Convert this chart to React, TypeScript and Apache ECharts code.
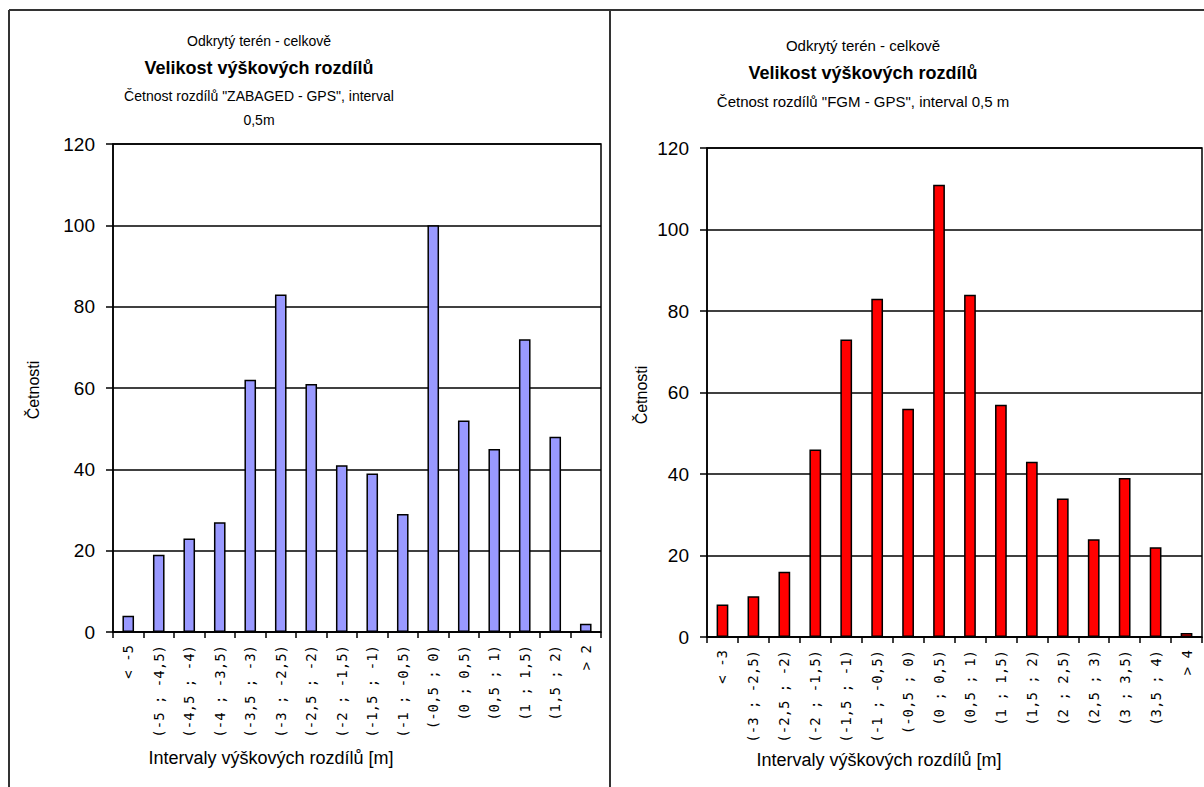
import React, { useEffect, useRef } from "react";
import * as echarts from "echarts";

const leftCategories = [
  "< -5", "(-5 ; -4,5)", "(-4,5 ; -4)", "(-4 ; -3,5)", "(-3,5 ; -3)", "(-3 ; -2,5)",
  "(-2,5 ; -2)", "(-2 ; -1,5)", "(-1,5 ; -1)", "(-1 ; -0,5)", "(-0,5 ; 0)", "(0 ; 0,5)",
  "(0,5 ; 1)", "(1 ; 1,5)", "(1,5 ; 2)", "> 2",
];
const leftValues = [4, 19, 23, 27, 62, 83, 61, 41, 39, 29, 100, 52, 45, 72, 48, 2];

const rightCategories = [
  "< -3", "(-3 ; -2,5)", "(-2,5 ; -2)", "(-2 ; -1,5)", "(-1,5 ; -1)", "(-1 ; -0,5)",
  "(-0,5 ; 0)", "(0 ; 0,5)", "(0,5 ; 1)", "(1 ; 1,5)", "(1,5 ; 2)", "(2 ; 2,5)",
  "(2,5 ; 3)", "(3 ; 3,5)", "(3,5 ; 4)", "> 4",
];
const rightValues = [8, 10, 16, 46, 73, 83, 56, 111, 84, 57, 43, 34, 24, 39, 22, 1];

const supertitle = "Odkrytý terén - celkově";
const mainTitle = "Velikost výškových rozdílů";
const leftSubtitle = ["Četnost rozdílů \"ZABAGED - GPS\", interval", "0,5m"];
const rightSubtitle = ["Četnost rozdílů \"FGM - GPS\", interval 0,5 m"];
const yName = "Četnosti";
const xName = "Intervaly výškových rozdílů [m]";

const FONT = "'Liberation Sans', Arial, sans-serif";
const LABEL_FONT = "'DejaVu Sans Mono', 'Liberation Mono', monospace";

function yAxisCfg(gridIndex: number) {
  return {
    type: "value",
    gridIndex,
    min: 0,
    max: 120,
    interval: 20,
    axisLine: { show: true, lineStyle: { color: "#000", width: 1.5 } },
    axisTick: { show: true, length: 7, lineStyle: { color: "#000", width: 1.5 } },
    axisLabel: { color: "#000", fontSize: 19, fontFamily: FONT, margin: 18 },
    splitLine: { show: true, lineStyle: { color: "#000", width: 1.5 } },
  };
}

function xAxisCfg(gridIndex: number, data: string[]) {
  return {
    type: "category",
    gridIndex,
    data,
    axisLine: { show: true, lineStyle: { color: "#000", width: 1.5 } },
    axisTick: { show: true, length: 6, lineStyle: { color: "#000", width: 1.5 } },
    axisLabel: {
      interval: 0,
      rotate: 90,
      color: "#000",
      fontSize: 14,
      fontFamily: LABEL_FONT,
      margin: 13,
    },
    splitLine: { show: false },
  };
}

function txt(x: number, y: number, text: string, size: number, bold = false, rotation = 0) {
  return {
    type: "text",
    x,
    y,
    rotation,
    style: {
      text,
      fill: "#000",
      font: `${bold ? "bold " : ""}${size}px ${FONT}`,
      textAlign: "center",
      textVerticalAlign: "middle",
    },
  };
}

export default function App() {
  const ref = useRef<HTMLDivElement>(null);
  useEffect(() => {
    if (!ref.current) return;
    const chart = echarts.init(ref.current, undefined, { renderer: "svg" });
    const frame = { stroke: "#333", lineWidth: 2 };
    chart.setOption({
      animation: false,
      backgroundColor: "#fff",
      grid: [
        { left: 113, top: 144, width: 488, height: 488, show: true, borderColor: "#000", borderWidth: 1.5, backgroundColor: "transparent" },
        { left: 707, top: 148, width: 495, height: 489, show: true, borderColor: "#000", borderWidth: 1.5, backgroundColor: "transparent" },
      ],
      xAxis: [xAxisCfg(0, leftCategories), xAxisCfg(1, rightCategories)],
      yAxis: [yAxisCfg(0), yAxisCfg(1)],
      series: [
        {
          type: "bar",
          xAxisIndex: 0,
          yAxisIndex: 0,
          data: leftValues,
          barWidth: "38%",
          itemStyle: { color: "#9999FF", borderColor: "#000", borderWidth: 1.5 },
        },
        {
          type: "bar",
          xAxisIndex: 1,
          yAxisIndex: 1,
          data: rightValues,
          barWidth: "38%",
          itemStyle: { color: "#FF0000", borderColor: "#000", borderWidth: 1.5 },
        },
      ],
      graphic: [
        { type: "line", shape: { x1: 9, y1: 10, x2: 1204, y2: 10 }, style: frame },
        { type: "line", shape: { x1: 9, y1: 10, x2: 9, y2: 787 }, style: frame },
        { type: "line", shape: { x1: 610, y1: 10, x2: 610, y2: 787 }, style: frame },
        txt(259, 41, supertitle, 14),
        txt(259, 68, mainTitle, 18, true),
        txt(259, 96, leftSubtitle[0], 14),
        txt(259, 120, leftSubtitle[1], 14),
        txt(863, 45, supertitle, 15),
        txt(863, 73, mainTitle, 18, true),
        txt(863, 101, rightSubtitle[0], 15),
        txt(33, 390, yName, 16, false, Math.PI / 2),
        txt(641, 395, yName, 16, false, Math.PI / 2),
        txt(271, 758, xName, 18),
        txt(879, 760, xName, 18),
      ],
    });
    return () => chart.dispose();
  }, []);
  return (
    <div
      ref={ref}
      style={{ position: "absolute", left: 0, top: 0, width: 1204, height: 787 }}
    />
  );
}
